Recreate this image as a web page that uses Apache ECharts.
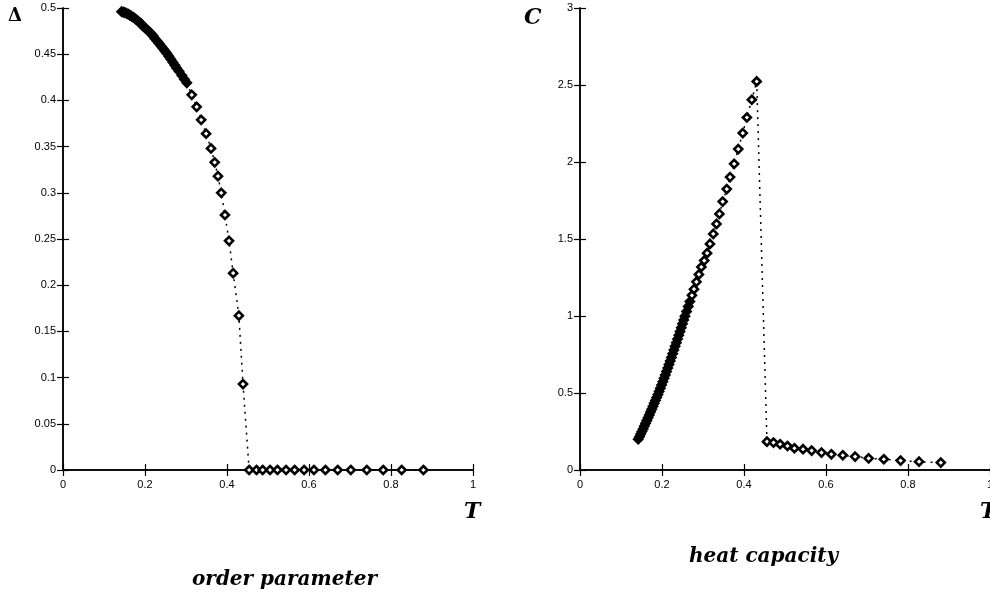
<!DOCTYPE html>
<html><head><meta charset="utf-8">
<script src="https://cdn.jsdelivr.net/npm/echarts@6/dist/echarts.min.js"></script>
<style>html,body{margin:0;padding:0;background:#fff}#c{width:990px;height:592px}</style>
</head><body><div id="c"></div>
<script>
// Order parameter Δ(T)
const deltaT = [0.143,0.147,0.151,0.155,0.159,0.163,0.167,0.171,0.175,0.179,0.183,0.187,0.191,0.196,0.200,0.205,0.210,0.215,0.220,0.224,0.229,0.234,0.239,0.244,0.249,0.253,0.258,0.263,0.268,0.273,0.277,0.283,0.290,0.296,0.302,
  0.314,0.326,0.337,0.349,0.361,0.370,0.378,0.386,0.395,0.405,0.415,0.429,0.439,
  0.454,0.472,0.487,0.505,0.523,0.544,0.565,0.588,0.612,0.640,0.670,0.702,0.741,0.781,0.826,0.879];
const deltaV = [0.496,0.4955,0.495,0.4942,0.4933,0.4923,0.4912,0.4900,0.4887,0.4873,0.4858,0.4843,0.4828,0.4800,0.4785,0.4765,0.4745,0.4722,0.4698,0.4670,0.4645,0.4618,0.4590,0.4562,0.4532,0.4510,0.4478,0.4445,0.4412,0.4380,0.4350,0.4315,0.4270,0.4230,0.4190,
  0.406,0.393,0.379,0.364,0.348,0.333,0.318,0.300,0.276,0.248,0.213,0.167,0.093,
  0,0,0,0,0,0,0,0,0,0,0,0,0,0,0,0];
// Heat capacity C(T)
const heatT = [0.142,0.145,0.148,0.151,0.154,0.157,0.160,0.163,0.166,0.169,0.172,0.175,0.178,0.181,0.184,0.187,0.190,0.193,0.196,0.199,0.202,0.205,0.208,0.211,0.214,0.217,0.220,0.223,0.226,0.229,0.232,0.235,0.238,0.241,0.244,0.247,0.250,0.253,0.256,0.260,0.264,0.268,0.273,0.278,0.284,0.290,0.296,0.303,0.310,
  0.317,0.325,0.333,0.340,0.348,0.358,0.366,0.376,0.386,0.397,0.407,0.419,0.431,
  0.456,0.472,0.488,0.506,0.523,0.544,0.565,0.589,0.613,0.641,0.671,0.704,0.741,0.782,0.827,0.880];
const heatV = [0.200,0.216,0.233,0.250,0.267,0.285,0.303,0.321,0.339,0.357,0.376,0.395,0.414,0.433,0.452,0.471,0.490,0.510,0.531,0.552,0.573,0.595,0.617,0.639,0.662,0.685,0.708,0.731,0.755,0.779,0.803,0.827,0.851,0.875,0.899,0.924,0.949,0.974,0.999,1.030,1.062,1.094,1.134,1.174,1.222,1.270,1.318,1.360,1.408,
  1.468,1.533,1.598,1.663,1.743,1.824,1.902,1.988,2.084,2.188,2.289,2.404,2.523,
  0.184,0.178,0.167,0.156,0.141,0.135,0.126,0.113,0.102,0.096,0.087,0.076,0.070,0.061,0.054,0.048];

const PW = 410, PH = 462;
const chart = echarts.init(document.getElementById('c'), null, {renderer:'canvas'});
const lab = {color:'#000', fontFamily:'Liberation Sans, Arial, sans-serif', fontSize:11};
const axLine = {show:true, lineStyle:{color:'#000', width:1.5}};
const tick = {show:true, inside:true, length:6, lineStyle:{color:'#000', width:1.2}};
function fmt(v){ return String(v); }
function mkX(grid, pos, showLab){
  return {type:'value', gridIndex:grid, position:pos, min:0, max:1, interval:0.2,
    axisLine:axLine, axisTick:tick, splitLine:{show:false},
    axisLabel: showLab ? Object.assign({margin:9, formatter:fmt, showMaxLabel:true}, lab) : {show:false}};
}
function mkY(grid, pos, max, interval, showLab){
  return {type:'value', gridIndex:grid, position:pos, min:0, max:max, interval:interval,
    axisLine:axLine, axisTick:tick, splitLine:{show:false},
    axisLabel: showLab ? Object.assign({margin:7, formatter:fmt}, lab) : {show:false}};
}
// markers that crowd together (closer than ~6 px to a neighbour) merge into a solid black band
function fillFn(xs, ys, ymax){
  return p => {
    const i = p.dataIndex;
    const d = j => Math.hypot((xs[j]-xs[i])*PW, (ys[j]-ys[i])/ymax*PH);
    let m = Infinity;
    if (i > 0) m = Math.min(m, d(i-1));
    if (i < xs.length-1) m = Math.min(m, d(i+1));
    return m < 6 ? '#000' : '#fff';
  };
}
const ser = (xi, yi, xs, ys, ymax) => ({
  type:'line', xAxisIndex:xi, yAxisIndex:yi, data: xs.map((x,i)=>[x, ys[i]]),
  symbol:'diamond', symbolSize:8, showAllSymbol:true,
  lineStyle:{color:'#000', width:1.5, type:[2,5]},
  itemStyle:{color:fillFn(xs, ys, ymax), borderColor:'#000', borderWidth:2.6},
  animation:false, z:3
});
const titleFont = 'DejaVu Serif, Liberation Serif, serif';
chart.setOption({
  animation:false,
  backgroundColor:'#fff',
  grid:[{left:63, top:8, width:PW, height:PH, outerBoundsMode:'none', containLabel:false},
        {left:580, top:8, width:PW, height:PH, outerBoundsMode:'none', containLabel:false}],
  xAxis:[mkX(0,'bottom',true), mkX(0,'top',false), mkX(1,'bottom',true), mkX(1,'top',false)],
  yAxis:[mkY(0,'left',0.5,0.05,true), mkY(0,'right',0.5,0.05,false), mkY(1,'left',3,0.5,true), mkY(1,'right',3,0.5,false)],
  series:[ser(0,0,deltaT,deltaV,0.5), ser(2,2,heatT,heatV,3)],
  graphic:[
    {type:'text', left:8, top:7, style:{text:'Δ', font:'bold 18px '+titleFont, fill:'#000'}},
    {type:'text', left:524, top:7, style:{text:'C', font:'italic bold 22px '+titleFont, fill:'#000'}},
    {type:'text', left:464, top:501, style:{text:'T', font:'italic bold 22px '+titleFont, fill:'#000'}},
    {type:'text', left:980, top:501, style:{text:'T', font:'italic bold 22px '+titleFont, fill:'#000'}},
    {type:'text', left:192, top:570, style:{text:'order parameter', font:'italic bold 20px '+titleFont, fill:'#000'}},
    {type:'text', left:689, top:547, style:{text:'heat capacity', font:'italic bold 20px '+titleFont, fill:'#000'}}
  ]
});
</script></body></html>
